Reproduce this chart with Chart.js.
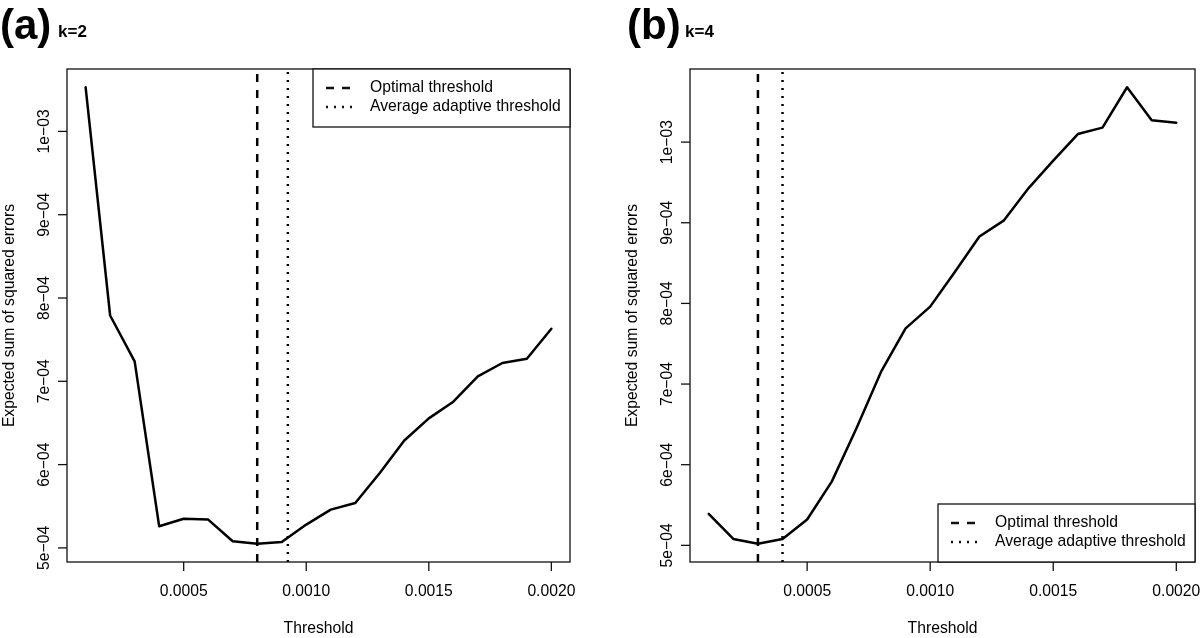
<!DOCTYPE html>
<html>
<head>
<meta charset="utf-8">
<script src="https://cdn.jsdelivr.net/npm/chart.js@4/dist/chart.umd.min.js"></script>
<style>
  html, body { margin: 0; padding: 0; background: #fff; }
  .panel { position: absolute; top: 0; width: 600px; height: 638px; }
</style>
</head>
<body>
<div class="panel" style="left:0"><canvas id="chartA"></canvas></div>
<div class="panel" style="left:600px"><canvas id="chartB"></canvas></div>
<script>
// thresholds on the x axis
const thresholds = [0.0001, 0.0002, 0.0003, 0.0004, 0.0005, 0.0006, 0.0007, 0.0008, 0.0009, 0.0010,
                    0.0011, 0.0012, 0.0013, 0.0014, 0.0015, 0.0016, 0.0017, 0.0018, 0.0019, 0.0020];
// expected sum of squared errors (x 1e-4)
const sseK2 = [10.53, 7.79, 7.24, 5.26, 5.35, 5.34, 5.08, 5.05, 5.07, 5.28,
               5.46, 5.54, 5.90, 6.29, 6.555, 6.755, 7.06, 7.22, 7.27, 7.63];
const sseK4 = [5.39, 5.08, 5.02, 5.08, 5.32, 5.79, 6.45, 7.15, 7.69, 7.96,
               8.39, 8.83, 9.03, 9.43, 9.77, 10.10, 10.18, 10.68, 10.27, 10.24];
const optimalK2 = 0.0008, adaptiveK2 = 0.000925;
const optimalK4 = 0.0003, adaptiveK4 = 0.0004;

const xTicks = [0.0005, 0.0010, 0.0015, 0.0020];
const xTickLabels = ['0.0005', '0.0010', '0.0015', '0.0020'];
const yTicks = [5e-4, 6e-4, 7e-4, 8e-4, 9e-4, 1e-3];
const yTickLabels = ['5e\u221204', '6e\u221204', '7e\u221204', '8e\u221204', '9e\u221204', '1e\u221203'];
const legendLabels = ['Optimal threshold', 'Average adaptive threshold'];

const FONT = '15.7px "Liberation Sans", Arial, sans-serif';

function seg(ctx, x1, y1, x2, y2) {
    ctx.beginPath(); ctx.moveTo(x1, y1); ctx.lineTo(x2, y2); ctx.stroke();
}

// R style frame: box, outward ticks, rotated y labels, legend, panel tag
const rFrame = {
    id: 'rFrame',
    afterDraw(chart, args, o) {
        const { ctx, chartArea: a, scales: { x, y } } = chart;
        ctx.save();
        ctx.strokeStyle = '#111'; ctx.fillStyle = '#000';
        ctx.lineWidth = 1.3;
        ctx.strokeRect(a.left, a.top, a.right - a.left, a.bottom - a.top);
        ctx.font = FONT;

        ctx.textAlign = 'center'; ctx.textBaseline = 'middle';
        xTicks.forEach((v, i) => {
            const px = x.getPixelForValue(v);
            seg(ctx, px, a.bottom, px, a.bottom + 9);
            ctx.fillText(xTickLabels[i], px, a.bottom + 30);
        });
        ctx.fillText('Threshold', (a.left + a.right) / 2, a.bottom + 67);

        yTicks.forEach((v, i) => {
            const py = y.getPixelForValue(v);
            seg(ctx, a.left - 9, py, a.left, py);
            ctx.save();
            ctx.translate(a.left - 22, py); ctx.rotate(-Math.PI / 2);
            ctx.fillText(yTickLabels[i], 0, 0);
            ctx.restore();
        });
        ctx.save();
        ctx.translate(a.left - 57, (a.top + a.bottom) / 2); ctx.rotate(-Math.PI / 2);
        ctx.fillText('Expected sum of squared errors', 0, 0);
        ctx.restore();

        // legend
        const lw = 257, lh = 58;
        const lx = a.right - lw;
        const ly = o.legendAt === 'top' ? a.top : a.bottom - lh;
        ctx.fillStyle = '#fff';
        ctx.fillRect(lx, ly, lw, lh);
        ctx.strokeRect(lx, ly, lw, lh);
        ctx.fillStyle = '#000';
        ctx.textAlign = 'left';
        const dashes = [[8, 8], [2, 6]];
        legendLabels.forEach((t, i) => {
            const ty = ly + 19 + i * 19;
            ctx.save();
            ctx.lineWidth = 2.5; ctx.setLineDash(dashes[i]);
            seg(ctx, lx + 13, ty, lx + 40, ty);
            ctx.restore();
            ctx.fillText(t, lx + 57, ty);
        });

        // panel tag
        ctx.textBaseline = 'alphabetic';
        ctx.font = 'bold 42px "Liberation Sans", Arial, sans-serif';
        ctx.fillText(o.tag, o.tagX, 39);
        ctx.font = 'bold 17px "Liberation Sans", Arial, sans-serif';
        ctx.fillText(o.kLabel, o.tagX + 58, 37);
        ctx.restore();
    }
};

function makePanel(id, sse, optimal, adaptive, pad, tag, kLabel, tagX, legendAt) {
    const vals = sse.map(v => v * 1e-4);
    const lo = Math.min(...vals), hi = Math.max(...vals);
    const yMin = lo - 0.04 * (hi - lo), yMax = hi + 0.04 * (hi - lo);
    const xMin = 0.0001 - 0.04 * 0.0019, xMax = 0.0020 + 0.04 * 0.0019;

    new Chart(document.getElementById(id), {
        type: 'line',
        data: {
            datasets: [
                { data: thresholds.map((t, i) => ({ x: t, y: vals[i] })),
                  borderColor: '#000', borderWidth: 2.5, pointRadius: 0,
                  borderJoinStyle: 'round', borderCapStyle: 'round', tension: 0 },
                { data: [{ x: optimal, y: yMin }, { x: optimal, y: yMax }],
                  borderColor: '#000', borderWidth: 2.5, borderDash: [8, 8], pointRadius: 0, clip: 0 },
                { data: [{ x: adaptive, y: yMin }, { x: adaptive, y: yMax }],
                  borderColor: '#000', borderWidth: 2.5, borderDash: [2, 6], pointRadius: 0, clip: 0 }
            ]
        },
        options: {
            responsive: true,
            maintainAspectRatio: false,
            animation: false,
            devicePixelRatio: 1,
            events: [],
            layout: { padding: pad },
            scales: {
                x: { type: 'linear', min: xMin, max: xMax, display: false },
                y: { type: 'linear', min: yMin, max: yMax, display: false }
            },
            plugins: {
                legend: { display: false },
                tooltip: { enabled: false },
                rFrame: { tag, kLabel, tagX, legendAt }
            }
        },
        plugins: [rFrame]
    });
}

makePanel('chartA', sseK2, optimalK2, adaptiveK2, { left: 67, right: 30, top: 69, bottom: 76 }, '(a)', 'k=2', 0, 'top');
makePanel('chartB', sseK4, optimalK4, adaptiveK4, { left: 90, right: 5, top: 69, bottom: 76 }, '(b)', 'k=4', 27, 'bottom');
</script>
</body>
</html>
